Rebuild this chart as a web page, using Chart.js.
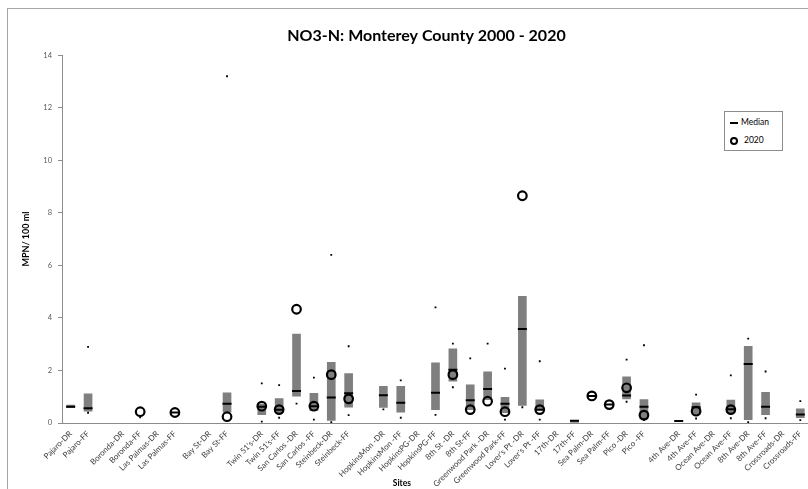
<!DOCTYPE html>
<html>
<head>
<meta charset="utf-8">
<script src="https://cdn.jsdelivr.net/npm/chart.js@4/dist/chart.umd.min.js"></script>
<style>
  html, body { margin: 0; padding: 0; background: #fff; overflow: hidden; }
  #cadre { position: absolute; left: 7px; top: 8px; width: 900px; height: 600px; border: 1px solid #a6a6a6; }
  #zone { position: absolute; left: 0; top: 0; width: 853px; height: 489px; }
  #legende { position: absolute; left: 724px; top: 111px; width: 57px; height: 38px; border: 1px solid #8c8c8c; background: #fff;
    font-family: Lato, "Open Sans", sans-serif; font-size: 8.5px; color: #000; }
  #legende div { position: absolute; left: 5px; height: 12px; line-height: 12px; white-space: nowrap; }
  .tiret { display: inline-block; width: 8px; height: 2px; background: #000; vertical-align: middle; margin-right: 3px; }
  .rond { display: inline-block; width: 4px; height: 4px; border: 2px solid #000; border-radius: 50%; vertical-align: middle; margin-right: 6px; }
</style>
</head>
<body>
<div id="cadre"></div>
<div id="zone"><canvas id="graphique"></canvas></div>
<div id="legende">
  <div style="top:4px"><span class="tiret"></span>Median</div>
  <div style="top:22px"><span class="rond"></span>2020</div>
</div>
<script>
// sites (les cases vides font les espaces entre groupes)
const sites = ["Pajaro-DR", "Pajaro-FF", "", "Boronda-DR", "Boronda-FF", "Las Palmas-DR", "Las Palmas-FF", "",
    "Bay St-DR", "Bay St-FF", "", "Twin 51's-DR", "Twin 51's-FF", "San Carlos -DR", "San Carlos -FF",
    "Steinbeck-DR", "Steinbeck-FF", "", "HopkinsMon -DR", "HopkinsMon -FF", "HopkinsPG-DR", "HopkinsPG-FF",
    "8th St -DR", "8th St-FF", "Greenwood Park -DR", "Greenwood Park-FF", "Lover's Pt -DR", "Lover's Pt -FF",
    "17th-DR", "17th-FF", "Sea Palm-DR", "Sea Palm-FF", "Pico -DR", "Pico -FF", "",
    "4th Ave-DR", "4th Ave-FF", "Ocean Ave-DR", "Ocean Ave-FF", "8th Ave-DR", "8th Ave-FF", "Crossroads-DR", "Crossroads-FF"];

// bas et haut des barres grises
const basBoite = [0.58, 0.45, null, null, null, null, null, null, null, 0.41, null, 0.32, 0.39, 1.02, 0.47,
    0.1, 0.6, null, 0.59, 0.41, null, 0.51, 1.59, 0.51, 0.89, 0.39, 0.67, 0.51, null, 0.02, null, null,
    0.92, 0.16, null, null, 0.32, null, 0.39, 0.13, 0.32, null, 0.2];
const hautBoite = [0.68, 1.11, null, null, null, null, null, null, null, 1.15, null, 0.72, 0.93, 3.38, 1.13,
    2.31, 1.88, null, 1.4, 1.4, null, 2.29, 2.82, 1.45, 1.95, 0.98, 4.82, 0.88, null, 0.1, null, null,
    1.76, 0.89, null, null, 0.77, null, 0.87, 2.92, 1.17, null, 0.54];
const mediane = [0.62, 0.56, null, null, null, null, 0.4, null, null, 0.73, null, 0.62, 0.5, 1.22, 0.64,
    0.97, 1.13, null, 1.06, 0.77, null, 1.15, 2.03, 0.87, 1.29, 0.73, 3.58, 0.5, null, 0.09, 1.03, 0.7,
    1.05, 0.62, null, 0.08, 0.6, null, 0.52, 2.25, 0.62, null, 0.32];
const minimum = [null, 0.39, null, null, 0.22, null, null, null, null, null, null, 0.05, 0.2, 0.74, 0.13,
    0.03, 0.3, null, 0.52, 0.2, null, 0.31, 1.36, null, null, 0.13, 0.6, 0.13, null, null, null, null,
    0.81, 0.11, null, null, 0.17, null, 0.18, 0.03, 0.18, null, 0.11];
const maximum = [null, 2.9, null, null, null, null, null, null, null, 13.2, null, 1.51, 1.44, null, 1.73,
    6.4, 2.92, null, null, 1.62, null, 4.4, 3.02, 2.46, 3.02, 2.07, null, 2.35, null, null, null, null,
    2.41, 2.96, null, null, 1.08, null, 1.81, 3.21, 1.96, null, 0.83];
const valeurs2020 = [null, null, null, null, 0.43, null, 0.4, null, null, 0.24, null, 0.64, 0.51, 4.33, 0.64,
    1.84, 0.92, null, null, null, null, null, 1.84, 0.51, 0.83, 0.43, 8.65, 0.51, null, null, 1.03, 0.7,
    1.34, 0.3, null, null, 0.45, null, 0.51, null, null, null, null];

const graduationsY = [0, 2, 4, 6, 8, 10, 12, 14];

const police = "Lato, 'Open Sans', sans-serif";

// texte du titre de l'axe x, un peu à gauche du centre
const titreSites = {
    id: "titreSites",
    afterDraw(chart) {
        const ctx = chart.ctx;
        const zone = chart.chartArea;
        ctx.save();
        ctx.font = "bold 8.5px " + police;
        ctx.fillStyle = "#000";
        ctx.textAlign = "center";
        ctx.textBaseline = "middle";
        ctx.fillText("Sites", zone.left + (zone.right - zone.left) * 0.455, zone.bottom + 60);
        ctx.restore();
    },
};

const data = {
    labels: sites,
    datasets: [
        {
            type: "bar",
            label: "Plage",
            data: sites.map((s, i) => (basBoite[i] == null ? null : [basBoite[i], hautBoite[i]])),
            backgroundColor: "#7f7f7f",
            barThickness: 8,
            order: 3,
        },
        {
            type: "line",
            label: "Max",
            data: maximum,
            showLine: false,
            pointStyle: "rect",
            pointRadius: 1.3,
            pointBorderWidth: 0,
            pointBackgroundColor: "#000",
            order: 2,
        },
        {
            type: "line",
            label: "Min",
            data: minimum,
            showLine: false,
            pointStyle: "rect",
            pointRadius: 1.3,
            pointBorderWidth: 0,
            pointBackgroundColor: "#000",
            order: 2,
        },
        {
            type: "line",
            label: "Median",
            data: mediane,
            showLine: false,
            pointStyle: "line",
            pointRadius: 4.5,
            pointBorderWidth: 2,
            pointBorderColor: "#000",
            order: 1,
        },
        {
            type: "line",
            label: "2020",
            data: valeurs2020,
            showLine: false,
            pointStyle: "circle",
            pointRadius: 4.3,
            pointBorderWidth: 2.2,
            pointBorderColor: "#000",
            pointBackgroundColor: "rgba(0,0,0,0)",
            order: 0,
        },
    ],
};

const config = {
    type: "bar",
    data: data,
    plugins: [titreSites],
    options: {
        responsive: true,
        maintainAspectRatio: false,
        animation: false,
        events: [],
        layout: { padding: 0 },
        plugins: {
            legend: { display: false },
            tooltip: { enabled: false },
            title: {
                display: true,
                text: "NO3-N: Monterey County 2000 - 2020",
                color: "#000",
                font: { family: police, size: 16, weight: "bold" },
                padding: { top: 26, bottom: 10 },
            },
        },
        scales: {
            x: {
                grid: { display: false, drawTicks: false },
                border: { color: "#8c8c8c" },
                ticks: {
                    autoSkip: false,
                    maxRotation: 45,
                    minRotation: 45,
                    padding: 6,
                    color: "#404040",
                    font: { family: police, size: 8 },
                },
                afterFit: scale => { scale.height = 66; },
            },
            y: {
                min: 0,
                max: 14,
                afterBuildTicks: scale => { scale.ticks = graduationsY.map(v => ({ value: v })); },
                grid: { drawOnChartArea: false, tickLength: 4, color: "#8c8c8c" },
                border: { color: "#8c8c8c" },
                ticks: { padding: 6, color: "#595959", font: { family: police, size: 7.5 } },
                title: {
                    display: true,
                    text: "MPN/ 100 ml",
                    color: "#000",
                    font: { family: police, size: 9, weight: "bold" },
                    padding: { top: 21, bottom: 0 },
                },
                afterFit: scale => { scale.width = 62; },
            },
            // axe vide à droite : la zone de tracé s'arrête au bord de la fenêtre
            vide: {
                position: "right",
                display: true,
                grid: { display: false },
                border: { display: false },
                ticks: { display: false },
                afterFit: scale => { scale.width = 44; },
            },
        },
    },
};

new Chart(document.querySelector("#graphique"), config);
</script>
</body>
</html>
